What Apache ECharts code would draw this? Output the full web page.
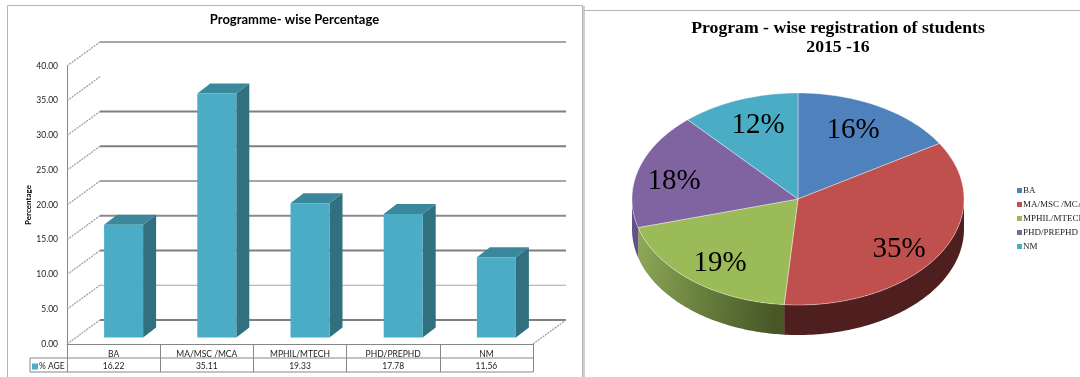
<!DOCTYPE html>
<html><head><meta charset="utf-8">
<style>html,body{margin:0;padding:0;background:#fff}#c{width:1080px;height:377px}</style>
<script src="https://cdn.jsdelivr.net/npm/echarts@6/dist/echarts.min.js"></script>
</head><body><div id="c"></div>
<script>
const categories = ['BA', 'MA/MSC /MCA', 'MPHIL/MTECH', 'PHD/PREPHD', 'NM'];
const percentages = [16.22, 35.11, 19.33, 17.78, 11.56];
const yTicks = [0, 5, 10, 15, 20, 25, 30, 35, 40];
const barSeriesName = '% AGE';

const wallStyle = {0:['#7f7f7f',2],5:['#a6a6a6',1],10:['#7f7f7f',2],15:['#8a8a8a',2],20:['#a6a6a6',2],25:['#7f7f7f',2],30:['#7f7f7f',2],35:null,40:['#a6a6a6',2]};
const pieTop = ['#4f81bd', '#c0504d', '#9bbb59', '#8064a2', '#4bacc6'];
const pieSide = ['#34557c', '#4f1f1f', null, '#65518a', '#2f7083'];
const pieLabelAt = [[853,130],[899,249],[720,263],[674,181],[758,125]];
const PIE = {cx:798, cy:199, rx:166, ry:106, depth:30};
const DEPTH = {dx:33, dy:-24};
const BAR = {shift:10, lift:6.5, w:39, dx:13, dy:-10};
const slant = {stroke:'#a0a0a0',lineWidth:1.3,lineDash:[2,1]};

const total = percentages.reduce((a,b)=>a+b,0);
function frac(i){ let s=0; for(let k=0;k<i;k++) s+=percentages[k]; return s/total; }
const pt=(t,dy=0)=>[PIE.cx+PIE.rx*Math.sin(t), PIE.cy-PIE.ry*Math.cos(t)+dy];

function pieRender(i){
  return function(params, api){
    const a0=frac(i)*2*Math.PI, a1=a0+api.value(0)/total*2*Math.PI, N=80, kids=[];
    const lo=Math.max(a0,Math.PI/2), hi=Math.min(a1,Math.PI*1.5);
    if(hi>lo){
      const up=[],dn=[];
      for(let k=0;k<=N;k++){const t=lo+(hi-lo)*k/N; up.push(pt(t)); dn.unshift(pt(t,PIE.depth));}
      const fill = pieSide[i] || new echarts.graphic.LinearGradient(0,0,1,0.2,[{offset:0,color:'#8fa958'},{offset:0.45,color:'#6b8340'},{offset:1,color:'#475826'}]);
      kids.push({type:'polygon',shape:{points:up.concat(dn)},style:{fill:fill},silent:true});
    }
    const pts=[[PIE.cx,PIE.cy]];
    for(let k=0;k<=N;k++) pts.push(pt(a0+(a1-a0)*k/N));
    kids.push({type:'polygon',shape:{points:pts},style:{fill:pieTop[i],stroke:'rgba(255,255,255,0.55)',lineWidth:0.7},silent:true});
    kids.push({type:'text',style:{text:Math.round(api.value(0)/total*100)+'%',x:pieLabelAt[i][0],y:pieLabelAt[i][1],align:'center',verticalAlign:'middle',font:'29px "Liberation Serif"',fill:'#000'},z2:10,silent:true});
    return {type:'group',children:kids};
  };
}

function wallRender(params, api){
  const cs=params.coordSys, v=api.value(0), y=api.coord([0,v])[1], kids=[], x0=cs.x;
  kids.push({type:'line',shape:{x1:x0,y1:y,x2:x0+DEPTH.dx,y2:y+DEPTH.dy},style:slant,silent:true});
  const st=wallStyle[v];
  if(st) kids.push({type:'line',shape:{x1:x0+DEPTH.dx,y1:y+DEPTH.dy,x2:cs.x+cs.width+DEPTH.dx,y2:y+DEPTH.dy},style:{stroke:st[0],lineWidth:st[1]},silent:true});
  if(v===0) kids.push({type:'line',shape:{x1:cs.x+cs.width,y1:y,x2:cs.x+cs.width+DEPTH.dx,y2:y+DEPTH.dy},style:slant,silent:true});
  return {type:'group',children:kids};
}

function barRender(params, api){
  const top=api.coord([api.value(0),api.value(1)]), base=api.coord([api.value(0),0]);
  const x0=top[0]+BAR.shift-BAR.w/2, x1=x0+BAR.w, yt=top[1]-BAR.lift, yb=base[1]-BAR.lift, dx=BAR.dx, dy=BAR.dy;
  return {type:'group',children:[
    {type:'polygon',shape:{points:[[x1,yb],[x1+dx,yb+dy],[x1+dx,yt+dy],[x1,yt]]},style:{fill:'#31707f'},silent:true},
    {type:'polygon',shape:{points:[[x0,yt],[x0+dx,yt+dy],[x1+dx,yt+dy],[x1,yt]]},style:{fill:'#3b879c'},silent:true},
    {type:'rect',shape:{x:x0,y:yt,width:BAR.w,height:yb-yt},style:{fill:'#4bacc6'},silent:true}
  ]};
}

const pieSeries = categories.map((c,i)=>({
  type:'custom',name:c,coordinateSystem:'none',data:[[percentages[i]]],
  renderItem:pieRender(i),itemStyle:{color:pieTop[i]},silent:true,animation:false
}));

const gray='#868686';
const chart=echarts.init(document.getElementById('c'),null,{renderer:'canvas'});
chart.setOption({
  animation:false,
  backgroundColor:'#fff',
  title:[
    {text:'Programme- wise Percentage',left:294.5,top:13,padding:0,textAlign:'center',textStyle:{fontFamily:'Lato',fontSize:13,fontWeight:'bold',color:'#000'}},
    {text:'Program - wise registration of students\n2015 -16',left:838,top:19,padding:0,textAlign:'center',textStyle:{fontFamily:'Liberation Serif',fontSize:17.7,fontWeight:'bold',color:'#000',lineHeight:19}}
  ],
  legend:[
    {data:[barSeriesName],left:32,top:362,orient:'horizontal',itemWidth:6,itemHeight:6,itemGap:2,icon:'rect',selectedMode:false,padding:0,textStyle:{fontFamily:'Lato',fontSize:8.5,color:'#222',padding:[0,0,0,-4]}},
    {data:categories,left:1017,top:186,orient:'vertical',itemWidth:5,itemHeight:5,itemGap:5,icon:'rect',selectedMode:false,padding:0,textStyle:{fontFamily:'Liberation Serif',fontSize:9,color:'#222',padding:[0,0,0,-4],lineHeight:9}}
  ],
  grid:{left:67,width:466,top:66,height:278,containLabel:false},
  xAxis:{type:'category',data:categories,
    axisLine:{show:true,lineStyle:{color:gray,width:1}},
    axisTick:{show:true,length:28,lineStyle:{color:gray,width:1}},
    axisLabel:{interval:0,margin:4,lineHeight:12.5,fontFamily:'Lato',fontSize:8.5,color:'#222',
      formatter:(v,i)=>v+'\n'+percentages[i].toFixed(2)}},
  yAxis:{type:'value',min:0,max:40,interval:5,name:'Percentage',nameLocation:'middle',nameGap:34,nameRotate:90,
    nameTextStyle:{fontFamily:'Lato',fontSize:8,fontWeight:'bold',color:'#000'},
    axisLine:{show:true,lineStyle:{color:gray,width:1}},axisTick:{show:false},splitLine:{show:false},
    axisLabel:{margin:9,fontFamily:'Lato',fontSize:8.5,color:'#222',formatter:v=>v.toFixed(2)}},
  graphic:[
    {type:'rect',shape:{x:7.5,y:5.5,width:575,height:380},style:{fill:'none',stroke:'#b5b5b5',lineWidth:1},silent:true},
    {type:'line',shape:{x1:30,y1:358,x2:533,y2:358},style:{stroke:gray,lineWidth:1},silent:true},
    {type:'polyline',shape:{points:[[30,358],[30,372],[533,372]]},style:{stroke:gray,lineWidth:1,fill:'none'},silent:true},
    {type:'line',shape:{x1:584,y1:6,x2:584,y2:377},style:{stroke:'#cfcfcf',lineWidth:2},silent:true},
    {type:'line',shape:{x1:584,y1:10.5,x2:1080,y2:10.5},style:{stroke:'#b5b5b5',lineWidth:1},silent:true}
  ],
  series:[
    {type:'custom',name:'wall',coordinateSystem:'cartesian2d',data:yTicks.map(v=>[v]),encode:{y:0},renderItem:wallRender,silent:true,animation:false,clip:false},
    {type:'custom',name:barSeriesName,coordinateSystem:'cartesian2d',data:categories.map((c,i)=>[i,percentages[i]]),encode:{x:0,y:1},renderItem:barRender,itemStyle:{color:'#4bacc6'},silent:true,animation:false,clip:false}
  ].concat(pieSeries)
});
</script></body></html>
